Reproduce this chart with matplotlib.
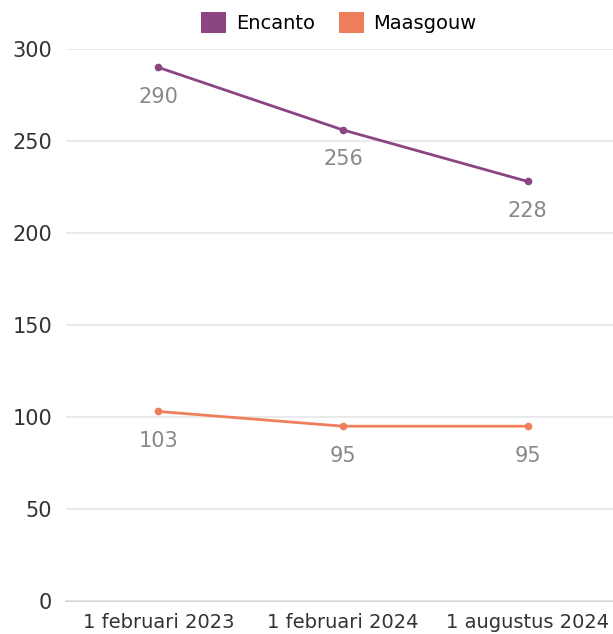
import matplotlib
matplotlib.use('Agg')
import matplotlib.pyplot as plt
from matplotlib.patches import Patch

categories = ['1 februari 2023', '1 februari 2024', '1 augustus 2024']
encanto = [290, 256, 228]
maasgouw = [103, 95, 95]

plt.rcParams['font.family'] = ['DejaVu Sans']

fig = plt.figure(figsize=(6.13, 6.34), dpi=100)
ax = fig.add_axes([66 / 613, 33 / 634, 554 / 613, 552 / 634])

x = list(range(len(categories)))
series = [('Encanto', encanto, '#8b4582'), ('Maasgouw', maasgouw, '#ef7f5c')]
for name, vals, col in series:
    ax.plot(x, vals, color=col, lw=2, marker='o', ms=4.5, clip_on=False)
    for xi, v in zip(x, vals):
        ax.annotate(str(v), (xi, v), xytext=(0, -14), textcoords='offset points',
                    ha='center', va='top', fontsize=15, color='#888888')

ax.set_xlim(-0.5, 2.5)
ax.set_ylim(0, 300)
ax.set_yticks(range(0, 301, 50))
ax.set_xticks(x)
ax.set_xticklabels(categories)
ax.tick_params(axis='both', length=0, labelsize=14, colors='#333333')
ax.tick_params(axis='y', labelsize=15, pad=10)
ax.tick_params(axis='x', pad=9)
ax.grid(axis='y', color='#e6e6e6', lw=1.2)
ax.set_axisbelow(True)
for s in ['top', 'right', 'left']:
    ax.spines[s].set_visible(False)
ax.spines['bottom'].set_color('#cccccc')
ax.spines['bottom'].set_linewidth(1.2)
ax.spines['bottom'].set_zorder(0)

handles = [Patch(facecolor=c, label=n) for n, _, c in series]
fig.legend(handles=handles, loc='center', bbox_to_anchor=(0.553, 0.965), ncol=2,
           frameon=False, fontsize=14, handlelength=1.3, handleheight=1.3,
           handletextpad=0.5, columnspacing=1.2)

fig.savefig('out.png', dpi=100)
